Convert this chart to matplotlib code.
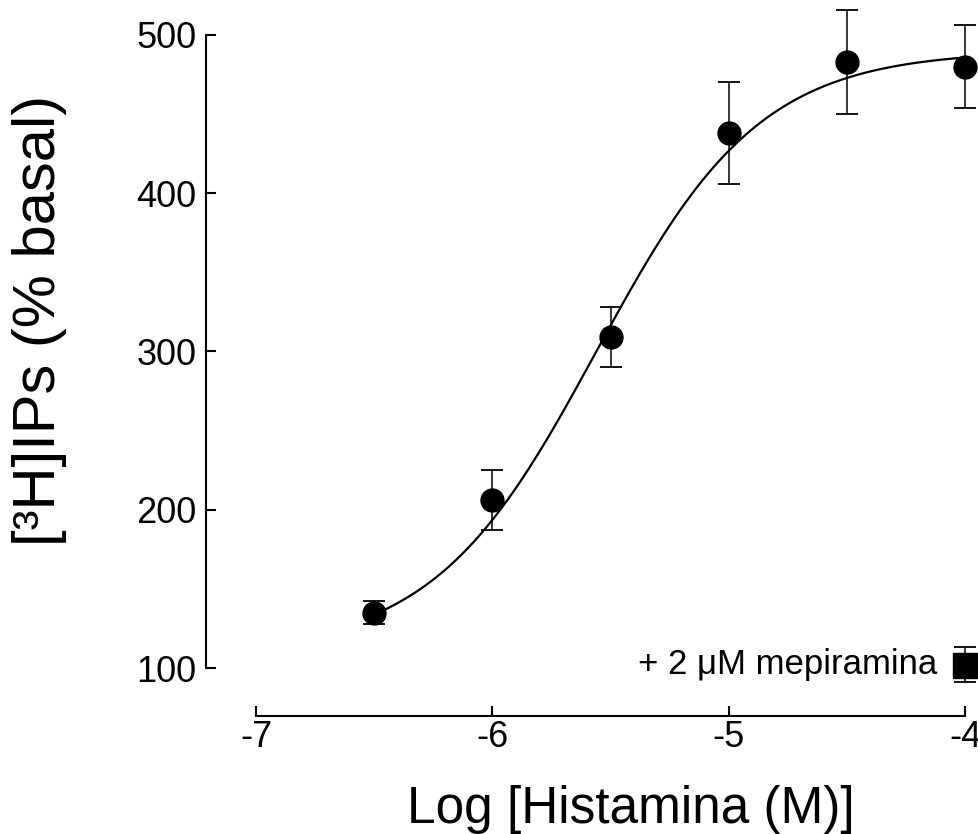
import numpy as np
import matplotlib
matplotlib.use("Agg")
import matplotlib.pyplot as plt

plt.rcParams['font.family'] = ['Liberation Sans', 'DejaVu Sans']

# histamine dose-response (mean +/- error)
log_dose = [-6.5, -6.0, -5.5, -5.0, -4.5, -4.0]
ips = [135, 206, 309, 438, 483, 480]
ips_err = [7.5, 19, 19, 32, 33, 26]

# + 2 uM mepiramine at the highest dose
mep_dose = [-4.0]
mep_ips = [102]
mep_err = [11]

# sigmoid fit parameters (bottom, top, logEC50, hill slope)
fit_bottom = 110
fit_top = 490
fit_logec50 = -5.56
fit_hill = 1.25

x_ticks = [-7, -6, -5, -4]
y_ticks = [100, 200, 300, 400, 500]

fig = plt.figure(figsize=(9.79, 8.34), dpi=100)
ax = fig.add_axes([206 / 979, 118 / 834, 773 / 979, 716 / 834])

xs = np.linspace(-6.48, -4.0, 200)
fit = fit_bottom + (fit_top - fit_bottom) / (1 + 10 ** ((fit_logec50 - xs) * fit_hill))
ax.plot(xs, fit, color='black', lw=1.6, zorder=2)

ax.errorbar(log_dose, ips, yerr=ips_err, fmt='o', color='black', ms=16.5,
            ecolor='black', elinewidth=1.1, capsize=8, capthick=1.3, zorder=3)
ax.errorbar(mep_dose, mep_ips, yerr=mep_err, fmt='s', color='black', ms=18,
            ecolor='black', elinewidth=1.1, capsize=8, capthick=1.3, zorder=3,
            clip_on=False)
ax.text(-4.118, 102, '+ 2 \u03bcM mepiramina', ha='right', va='center', fontsize=25)

ax.set_xlim(-7.2116, -3.9408)
ax.set_ylim(69.67, 522.1)

for side in ['top', 'right']:
    ax.spines[side].set_visible(False)
ax.spines['left'].set_bounds(100, 500)
ax.spines['bottom'].set_bounds(-7, -4)
ax.spines['left'].set_linewidth(1.5)
ax.spines['bottom'].set_linewidth(1.5)

ax.set_xticks(x_ticks)
ax.set_xticklabels([str(t) for t in x_ticks])
ax.set_yticks(y_ticks)
ax.tick_params(axis='both', direction='in', length=7.5, width=1.5, labelsize=26)
ax.tick_params(axis='x', pad=3)
ax.tick_params(axis='y', pad=7)

fig.text(631 / 979, 1 - 810 / 834, 'Log [Histamina (M)]', ha='center', va='center', fontsize=37)
fig.text(40 / 979, 1 - 320 / 834, '[\u00b3H]IPs (% basal)', ha='center', va='center',
         rotation=90, fontsize=43)

fig.savefig('out.png', dpi=100)
